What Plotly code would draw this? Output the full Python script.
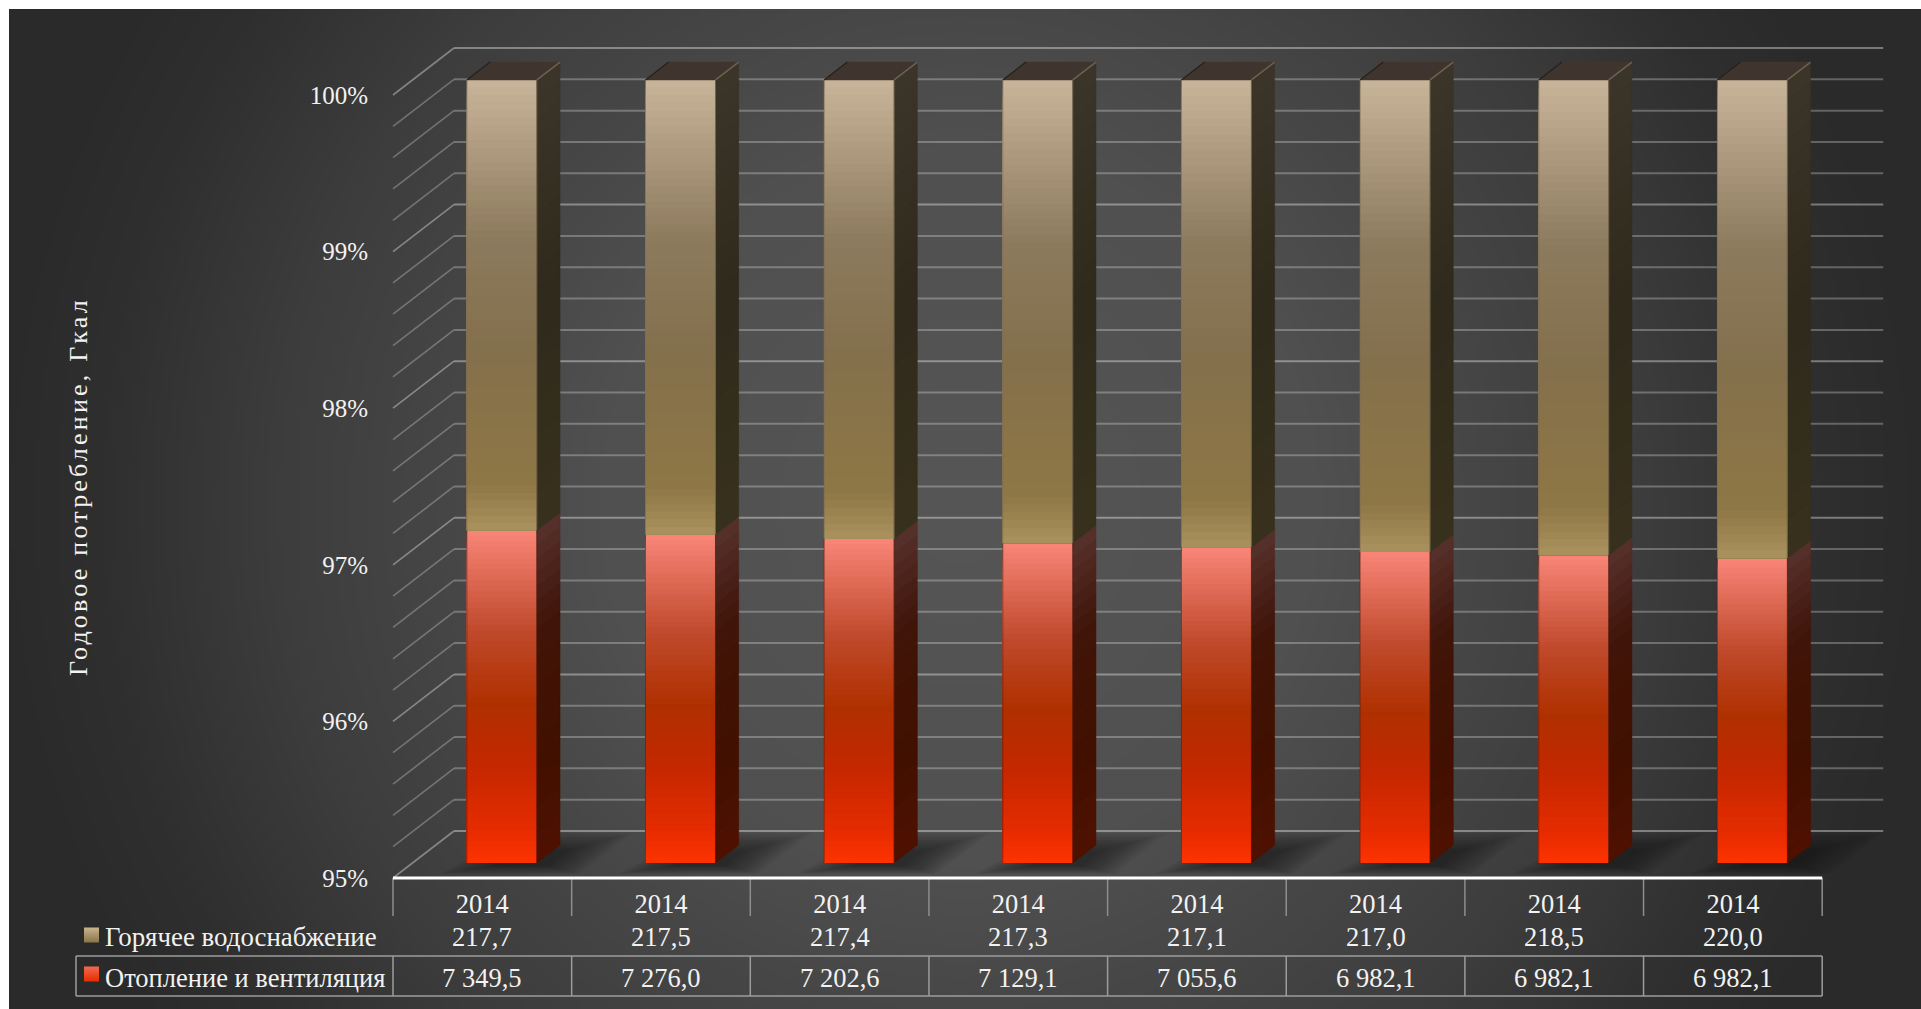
import base64
import struct
import zlib

import numpy as np
import plotly.graph_objects as go

# ---- chart data -------------------------------------------------------------
years = ["2014"] * 8
hot_water = [217.7, 217.5, 217.4, 217.3, 217.1, 217.0, 218.5, 220.0]
heating = [7349.5, 7276.0, 7202.6, 7129.1, 7055.6, 6982.1, 6982.1, 6982.1]
hot_water_labels = ["217,7", "217,5", "217,4", "217,3", "217,1", "217,0", "218,5", "220,0"]
heating_labels = ["7 349,5", "7 276,0", "7 202,6", "7 129,1",
                  "7 055,6", "6 982,1", "6 982,1", "6 982,1"]
series_names = ["Горячее водоснабжение", "Отопление и вентиляция"]
axis_title = "Годовое потребление, Гкал"
percent_ticks = [95, 96, 97, 98, 99, 100]
percent_labels = ["95%", "96%", "97%", "98%", "99%", "100%"]

# ---- page geometry ----------------------------------------------------------
W, H = 1921, 1009
AXIS_LEFT, AXIS_BOTTOM = 393, 878
CAT_PX, PCT_PX = 178.65, 156.6
FONT = "Liberation Serif"
TEXT = "#f2f2f2"
TICK_SIZE = 25
TABLE_SIZE = 26.5
WATER_HEADER_SIZE = 26.9
HEAT_HEADER_SIZE = 26.5


def xd(px):
    return (px - AXIS_LEFT) / CAT_PX


def yd(py):
    return 95 + (AXIS_BOTTOM - py) / PCT_PX


def xp(px):
    return px / W


def yp(py):
    return 1 - py / H


# oblique projection: one unit of depth moves a point up and to the right
DEPTH_X = 61 / CAT_PX
DEPTH_Y = 47 / PCT_PX
BAR_FRONT, BAR_BACK = 0.32, 0.70
BAR_WIDTH = 70 / CAT_PX


def hex_rgb(c):
    return np.array([int(c[i:i + 2], 16) for i in (1, 3, 5)], dtype=float)


def ramp(stops, f):
    pos = [s[0] for s in stops]
    rgb = np.array([hex_rgb(s[1]) for s in stops])
    return "rgb(%d,%d,%d)" % tuple(np.interp(f, pos, rgb[:, i]) for i in range(3))


RED_FRONT = [(0, "#ff3300"), (0.1, "#e62c00"), (0.3, "#c42800"), (0.48, "#b03000"),
             (0.7, "#c04a2c"), (1, "#f98679")]
TAN_FRONT = [(0, "#ab935e"), (0.1, "#8f7846"), (0.4, "#84704c"), (0.65, "#8d7b5e"),
             (1, "#c9b59a")]
RED_SIDE = [(0, "#4f1200"), (0.3, "#421000"), (0.7, "#401509"), (1, "#57312c")]
TAN_SIDE = [(0, "#38311c"), (0.5, "#2f2a1c"), (1, "#3c3529")]

# ---- radial backdrop as a small generated PNG --------------------------------
bw, bh = 480, 250
px_x = (np.arange(bw) + 0.5) / bw * (W - 9) + 9
px_y = (np.arange(bh) + 0.5) / bh * (H - 9) + 9
rr = np.hypot(px_x[None, :] - 960, px_y[:, None] - 505)
grey = np.interp(rr, [0, 363, 506, 683, 860, 950, 1100],
                 [0x56, 0x50, 0x47, 0x3d, 0x2f, 0x2b, 0x2a]).astype(np.uint8)


def png_chunk(tag, body):
    return (struct.pack(">I", len(body)) + tag + body
            + struct.pack(">I", zlib.crc32(tag + body) & 0xffffffff))


raw = b"".join(b"\0" + row.tobytes() for row in grey)
png = (b"\x89PNG\r\n\x1a\n"
       + png_chunk(b"IHDR", struct.pack(">IIBBBBB", bw, bh, 8, 0, 0, 0, 0))
       + png_chunk(b"IDAT", zlib.compress(raw))
       + png_chunk(b"IEND", b""))
backdrop = "data:image/png;base64," + base64.b64encode(png).decode()

fig = go.Figure()
shapes = []
annotations = []


def line_shape(x0, y0, x1, y1, color, width, xref="x", yref="y"):
    shapes.append(dict(type="line", xref=xref, yref=yref, x0=x0, y0=y0, x1=x1, y1=y1,
                       line=dict(color=color, width=width), layer="below"))


# ---- wall and floor grid ------------------------------------------------------
n_cat = len(years)
for i in range(26):
    level = 95 + i * 0.2
    col = "rgba(255,255,255,0.37)" if i % 5 == 0 else "rgba(255,255,255,0.27)"
    line_shape(0, level, DEPTH_X, level + DEPTH_Y, col, 1.6)
    line_shape(DEPTH_X, level + DEPTH_Y, n_cat + DEPTH_X, level + DEPTH_Y, col, 2)

# ---- soft shadows on the floor -------------------------------------------------
shadow_outline = np.array([(-28, 11), (112, 11), (165, -30), (84, -30), (20, -14)], dtype=float)
shadow_centre = np.array([62.0, -2.0])
for k in range(n_cat):
    bar_left_px = AXIS_LEFT + (k + 0.5 + BAR_FRONT * DEPTH_X - BAR_WIDTH / 2) * CAT_PX
    bar_base_py = AXIS_BOTTOM - BAR_FRONT * DEPTH_Y * PCT_PX
    for scale in np.linspace(1.0, 0.35, 14):
        pts = shadow_centre + (shadow_outline - shadow_centre) * scale
        path = "M" + " L".join(f"{xd(bar_left_px + a):.4f},{yd(bar_base_py + b):.4f}"
                               for a, b in pts) + " Z"
        shapes.append(dict(type="path", xref="x", yref="y", path=path, layer="below",
                           fillcolor="rgba(18,18,18,0.05)", line=dict(width=0)))

# ---- stacked columns: nested gradient slices over the front faces ---------------
heat_share = [100 * h / (h + w) for h, w in zip(heating, hot_water)]
centres = [k + 0.5 + BAR_FRONT * DEPTH_X for k in range(n_cat)]
lift = BAR_FRONT * DEPTH_Y
N_FRONT = 60
N_SIDE = 24


def add_front(name, lows, highs, stops):
    # tallest slice first, so each shorter one paints over it without seams
    xs, bases, heights, colors = [], [], [], []
    for j in range(N_FRONT - 1, -1, -1):
        for c, lo, hi in zip(centres, lows, highs):
            xs.append(c)
            bases.append(lo + lift)
            heights.append((hi - lo) * (j + 1) / N_FRONT)
            colors.append(ramp(stops, (j + 0.5) / N_FRONT))
    fig.add_trace(go.Bar(x=xs, y=heights, base=bases, width=BAR_WIDTH, name=name,
                         marker=dict(color=colors, line=dict(width=0)),
                         showlegend=False, hoverinfo="skip"))


add_front(series_names[1], [95] * n_cat, heat_share, RED_FRONT)
add_front(series_names[0], heat_share, [100] * n_cat, TAN_FRONT)


# ---- side faces, drawn as slanted slices -----------------------------------------
def add_side(lows, highs, stops):
    dx = (BAR_BACK - BAR_FRONT) * DEPTH_X
    dy = (BAR_BACK - BAR_FRONT) * DEPTH_Y
    for j in range(N_SIDE):
        xs, ys = [], []
        for c, lo, hi in zip(centres, lows, highs):
            step = (hi - lo) / N_SIDE
            x0 = c + BAR_WIDTH / 2
            y0 = lo + lift + j * step
            y1 = y0 + step
            xs += [x0, x0 + dx, x0 + dx, x0, x0, None]
            ys += [y0, y0 + dy, y1 + dy, y1, y0, None]
        col = ramp(stops, (j + 0.5) / N_SIDE)
        fig.add_trace(go.Scatter(x=xs, y=ys, mode="lines", fill="toself", fillcolor=col,
                                 line=dict(color=col, width=0.5), showlegend=False,
                                 hoverinfo="skip"))


add_side([95] * n_cat, heat_share, RED_SIDE)
add_side(heat_share, [100] * n_cat, TAN_SIDE)

# ---- caps of the columns and their lit edge -------------------------------------
dx = (BAR_BACK - BAR_FRONT) * DEPTH_X
dy = (BAR_BACK - BAR_FRONT) * DEPTH_Y
cap_x, cap_y, edge_x, edge_y, dark_x, dark_y = [], [], [], [], [], []
for c in centres:
    a, b = c - BAR_WIDTH / 2, c + BAR_WIDTH / 2
    top = 100 + lift
    cap_x += [a, b, b + dx, a + dx, a, None]
    cap_y += [top, top, top + dy, top + dy, top, None]
    edge_x += [b, b + dx, None]
    edge_y += [top, top + dy, None]
    dark_x += [a, a + dx, None]
    dark_y += [top, top + dy, None]
fig.add_trace(go.Scatter(x=cap_x, y=cap_y, mode="lines", fill="toself", fillcolor="#40352e",
                         line=dict(color="#40352e", width=0.5), showlegend=False,
                         hoverinfo="skip"))
fig.add_trace(go.Scatter(x=edge_x, y=edge_y, mode="lines", line=dict(color="#6c6250", width=1.5),
                         showlegend=False, hoverinfo="skip"))
fig.add_trace(go.Scatter(x=dark_x, y=dark_y, mode="lines", line=dict(color="#262019", width=1.2),
                         showlegend=False, hoverinfo="skip"))

# thin rims around the front faces
for lows, highs, col in (([95] * n_cat, heat_share, "rgba(90,30,15,0.6)"),
                         (heat_share, [100] * n_cat, "rgba(125,110,85,0.75)")):
    xs, ys = [], []
    for c, lo, hi in zip(centres, lows, highs):
        a, b = c - BAR_WIDTH / 2, c + BAR_WIDTH / 2
        xs += [a, a, None, b, b, None]
        ys += [lo + lift, hi + lift, None, lo + lift, hi + lift, None]
    fig.add_trace(go.Scatter(x=xs, y=ys, mode="lines", line=dict(color=col, width=1),
                             showlegend=False, hoverinfo="skip"))

# ---- data table under the axis ---------------------------------------------------
GRID_COL = "#9c9c9c"
ROW_WATER, ROW_HEAT = 937, 978
TABLE_TOP, TABLE_BOTTOM, TABLE_LEFT = 956, 996, 76
TABLE_RIGHT = AXIS_LEFT + n_cat * CAT_PX
for k in range(n_cat + 1):
    line_shape(k, yp(AXIS_BOTTOM), k, yp(916), "#8e8e8e", 1.5, yref="paper")
    line_shape(k, yp(TABLE_TOP), k, yp(TABLE_BOTTOM), GRID_COL, 1.5, yref="paper")
line_shape(xp(TABLE_LEFT), yp(TABLE_TOP), xp(TABLE_RIGHT), yp(TABLE_TOP),
           GRID_COL, 1.5, xref="paper", yref="paper")
line_shape(xp(TABLE_LEFT), yp(TABLE_BOTTOM), xp(TABLE_RIGHT), yp(TABLE_BOTTOM),
           GRID_COL, 1.5, xref="paper", yref="paper")
line_shape(xp(TABLE_LEFT), yp(TABLE_TOP), xp(TABLE_LEFT), yp(TABLE_BOTTOM),
           GRID_COL, 1.5, xref="paper", yref="paper")
# the bright baseline of the category axis
line_shape(0, 95, n_cat, 95, "#ffffff", 3)


def table_text(x, py, text, size, xref="x", anchor="center"):
    annotations.append(dict(x=x, y=yp(py), xref=xref, yref="paper", text=text, showarrow=False,
                            xanchor=anchor, yanchor="middle",
                            font=dict(family=FONT, size=size, color=TEXT)))


for k in range(n_cat):
    table_text(k + 0.5, ROW_WATER, hot_water_labels[k], TABLE_SIZE)
    table_text(k + 0.5, ROW_HEAT, heating_labels[k], TABLE_SIZE)
table_text(xp(103), ROW_WATER, series_names[0], WATER_HEADER_SIZE, xref="paper", anchor="left")
table_text(xp(103), ROW_HEAT, series_names[1], HEAT_HEADER_SIZE, xref="paper", anchor="left")

# legend keys in the row headers
for py, col, grad in ((935, "#c9b48c", "#8a7448"), (974, "#f26a50", "#e62c00")):
    fig.add_trace(go.Scatter(x=[xd(91.5)], y=[yd(py)], mode="markers", showlegend=False,
                             hoverinfo="skip",
                             marker=dict(symbol="square", size=15, color=col,
                                         gradient=dict(type="vertical", color=grad),
                                         line=dict(width=0))))

# rotated axis caption
annotations.append(dict(x=xp(78), y=yp(487), xref="paper", yref="paper", text=axis_title,
                        textangle=-90, showarrow=False, xanchor="center", yanchor="middle",
                        font=dict(family=FONT, size=26, color=TEXT)))

fig.update_layout(
    width=W, height=H, margin=dict(l=0, r=0, t=0, b=0), autosize=False,
    paper_bgcolor="#ffffff", plot_bgcolor="rgba(0,0,0,0)",
    barmode="overlay", showlegend=False,
    images=[dict(source=backdrop, xref="paper", yref="paper", x=xp(9), y=yp(9),
                 sizex=(W - 9) / W, sizey=(H - 9) / H, sizing="stretch",
                 xanchor="left", yanchor="top", layer="below")],
    shapes=shapes, annotations=annotations,
    xaxis=dict(range=[xd(0), xd(W)], domain=[0, 1], anchor="free", position=yp(AXIS_BOTTOM),
               tickmode="array", tickvals=[k + 0.5 for k in range(n_cat)], ticktext=years,
               tickfont=dict(family=FONT, size=TABLE_SIZE, color=TEXT), ticks="",
               ticklabelstandoff=7, showgrid=False, zeroline=False, showline=False, tickangle=0),
    yaxis=dict(range=[yd(H), yd(0)], domain=[0, 1], anchor="free", position=xp(AXIS_LEFT),
               tickmode="array", tickvals=percent_ticks, ticktext=percent_labels,
               tickfont=dict(family=FONT, size=TICK_SIZE, color=TEXT), ticks="",
               ticklabelstandoff=25, showgrid=False, zeroline=False, showline=False),
)

# the caption is set with wide letter spacing
spacing_js = """
function spaceCaption() {
  document.querySelectorAll('.annotation-text').forEach(function (t) {
    if (t.textContent.indexOf('Годовое') === 0) { t.style.letterSpacing = '3.2px'; }
  });
}
spaceCaption();
setTimeout(spaceCaption, 200);
"""
fig.write_html("out.html", post_script=spacing_js, config=dict(displayModeBar=False))
